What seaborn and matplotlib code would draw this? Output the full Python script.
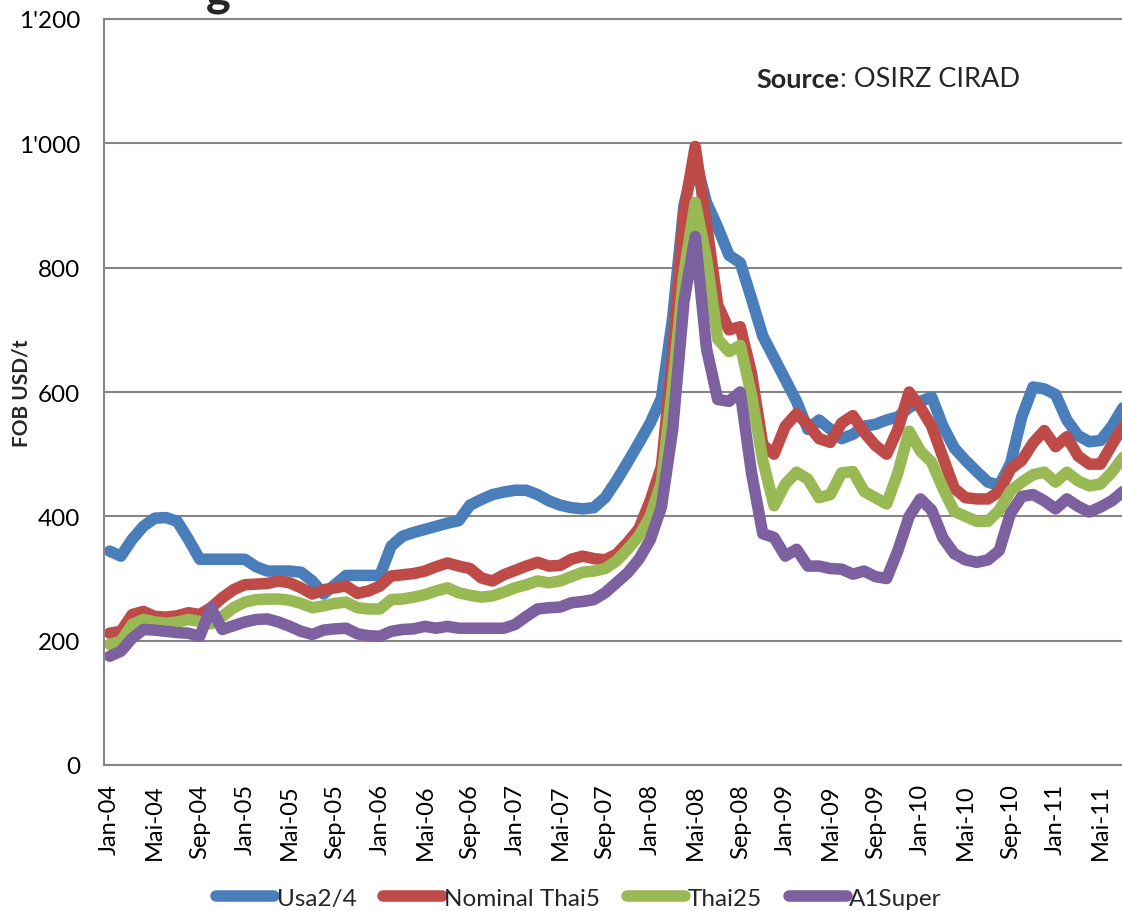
import matplotlib
matplotlib.use("Agg")
import matplotlib.pyplot as plt
from matplotlib.ticker import FuncFormatter
import numpy as np
import pandas as pd
import seaborn as sns

# monthly FOB prices Jan-04 .. Jul-11 (USD/t)
month_names = ["Jan", "Feb", "Mär", "Apr", "Mai", "Jun", "Jul", "Aug", "Sep", "Okt", "Nov", "Dez"]
years = ["04", "05", "06", "07", "08", "09", "10", "11"]
months = [f"{m}-{y}" for y in years for m in month_names][:91]

usa24 = [344, 336, 363, 384, 397, 398, 392, 363, 331, 331, 331, 331, 331, 319, 312, 312,
         312, 310, 296, 275, 290, 305, 305, 305, 305, 352, 368, 374, 379, 384, 389, 393,
         418, 427, 435, 439, 442, 442, 435, 425, 418, 414, 412, 414, 430, 457, 487, 518,
         550, 590, 720, 900, 975, 905, 865, 820, 808, 750, 690, 655, 620, 585, 540, 555,
         540, 525, 532, 545, 548, 555, 560, 575, 585, 592, 545, 510, 490, 472, 455, 450,
         485, 560, 608, 605, 596, 555, 530, 520, 522, 545, 575]
thai5 = [212, 215, 242, 247, 239, 238, 240, 245, 242, 253, 269, 282, 290, 291, 292, 296,
         293, 285, 275, 282, 285, 288, 276, 280, 288, 304, 306, 308, 312, 319, 325, 320,
         316, 301, 296, 306, 313, 320, 326, 320, 321, 331, 336, 332, 330, 339, 358, 380,
         425, 480, 660, 890, 995, 870, 740, 700, 705, 630, 515, 500, 545, 565, 548, 525,
         519, 550, 562, 535, 514, 500, 540, 600, 575, 545, 495, 445, 430, 428, 428, 440,
         476, 490, 518, 538, 512, 528, 497, 484, 484, 515, 545]
thai25 = [194, 199, 226, 234, 230, 228, 230, 234, 231, 227, 239, 253, 262, 266, 267, 267,
          265, 260, 253, 256, 260, 262, 253, 251, 251, 266, 267, 270, 274, 280, 285, 277,
          273, 270, 272, 278, 285, 290, 296, 293, 296, 303, 310, 312, 316, 328, 347, 368,
          400, 455, 610, 790, 905, 815, 685, 665, 675, 595, 490, 417, 452, 471, 460, 430,
          435, 470, 472, 440, 430, 420, 470, 537, 505, 487, 445, 408, 400, 392, 392, 410,
          441, 455, 467, 471, 455, 471, 457, 449, 452, 471, 495]
a1super = [175, 183, 204, 218, 217, 215, 213, 212, 207, 253, 218, 224, 230, 234, 235, 230,
           223, 215, 210, 217, 219, 220, 211, 208, 207, 215, 218, 219, 223, 220, 223, 220,
           220, 220, 220, 220, 226, 239, 251, 253, 254, 261, 263, 266, 277, 293, 309, 331,
           362, 415, 540, 745, 850, 670, 588, 585, 600, 470, 372, 366, 336, 347, 320, 320,
           316, 315, 307, 312, 303, 300, 345, 400, 428, 410, 365, 340, 330, 326, 330, 345,
           405, 432, 435, 425, 412, 428, 416, 407, 415, 425, 440]

series_names = ["Usa2/4", "Nominal Thai5", "Thai25", "A1Super"]
colors = ["#4A7EBB", "#BE4B48", "#98B954", "#7D60A0"]

df = pd.DataFrame({
    "t": list(range(len(months))) * 4,
    "price": usa24 + thai5 + thai25 + a1super,
    "serie": np.repeat(series_names, len(months)),
})

sns.set_style("white")
plt.rcParams["font.family"] = ["Lato", "DejaVu Sans"]

fig = plt.figure(figsize=(11.22, 9.12), dpi=100)
ax = fig.add_axes([104 / 1122, 146 / 912, 1018 / 1122, 746 / 912])

sns.lineplot(data=df, x="t", y="price", hue="serie", hue_order=series_names,
             palette=colors, linewidth=8.3, legend=False, ax=ax,
             solid_capstyle="round", solid_joinstyle="round")

ax.set_xlim(-0.5, 89.9)
ax.set_ylim(0, 1200)
ax.set_yticks(range(0, 1201, 200))
ax.yaxis.set_major_formatter(FuncFormatter(lambda v, p: f"{int(v):,}".replace(",", "'")))
ticks = list(range(0, len(months), 4))
ax.set_xticks(ticks)
ax.set_xticklabels([months[i] for i in ticks], rotation=90)
ax.tick_params(axis="y", length=0, pad=17, labelsize=17.5, colors="black")
ax.tick_params(axis="x", length=0, pad=13, labelsize=17, colors="black")
ax.set_xlabel("")
ax.set_ylabel("")

ax.yaxis.grid(True, color="#868686", linewidth=1.5)
ax.xaxis.grid(False)
ax.set_axisbelow(True)
for side in ["left", "bottom", "top"]:
    ax.spines[side].set_color("#868686")
    ax.spines[side].set_linewidth(1.5)
ax.spines["right"].set_visible(False)

fig.text(22 / 1122, 1 - 393 / 912, "FOB USD/t", rotation=90, ha="center", va="center",
         fontsize=15, fontweight="bold")

src = ax.text(0.641, 0.904, "Source", transform=ax.transAxes, fontsize=19.5,
              fontweight="bold", ha="left", va="bottom")
ax.annotate(": OSIRZ CIRAD", xy=(1, 0), xycoords=src, fontsize=19.5, ha="left", va="bottom")

# remainder of the cropped title
fig.text(218 / 1122, 1 - 6 / 912, "g", fontsize=34, fontweight="bold", ha="center", va="baseline")

ax.legend(ax.get_lines()[:4], series_names, loc="center", ncol=4, frameon=False,
          bbox_to_anchor=(579 / 1122, 1 - 899 / 912), bbox_transform=fig.transFigure,
          fontsize=17.5, handlelength=2.4, handletextpad=0.1, columnspacing=1.1)

fig.savefig("out.png", dpi=100)
